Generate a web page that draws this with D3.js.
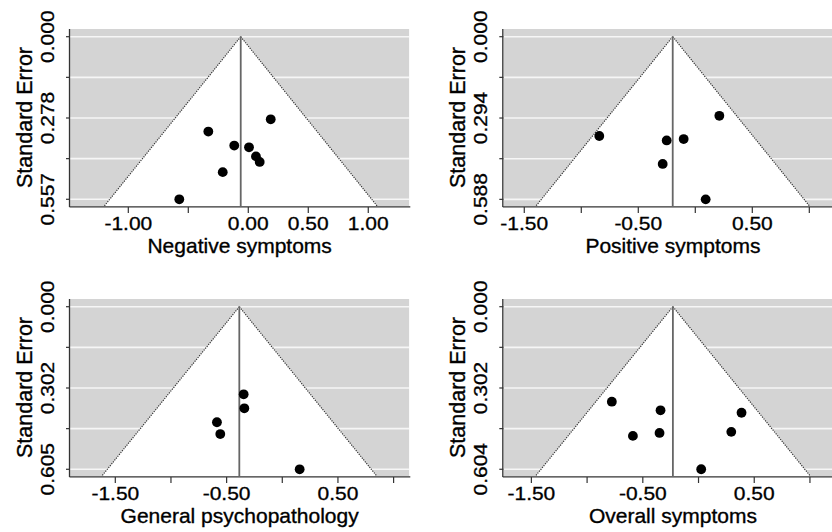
<!DOCTYPE html>
<html>
<head>
<meta charset="utf-8">
<script src="https://cdn.jsdelivr.net/npm/d3@7"></script>
<style>
  body { margin: 0; background: #fff; }
  svg { display: block; font-family: "Liberation Sans", Arial, sans-serif; }
  text { stroke: #000; stroke-width: 0.35px; }
</style>
</head>
<body>
<div id="chart"></div>
<script>
// panel titles
var titles = ["Negative symptoms", "Positive symptoms", "General psychopathology", "Overall symptoms"];

// effect sizes and standard errors per panel
var negEffect = [0.187, -0.333, -0.117, 0.006, 0.064, 0.095, -0.213, -0.575];
var negSE     = [0.283, 0.325, 0.373, 0.379, 0.410, 0.429, 0.464, 0.557];
var posEffect = [0.211, -0.842, -0.251, -0.102, -0.286, 0.091];
var posSE     = [0.286, 0.359, 0.375, 0.370, 0.460, 0.588];
var genEffect = [-0.347, -0.341, -0.587, -0.557, 0.156];
var genSE     = [0.326, 0.378, 0.430, 0.474, 0.605];
var allEffect = [-0.778, -0.341, 0.386, -0.589, -0.350, 0.294, 0.024];
var allSE     = [0.353, 0.385, 0.394, 0.480, 0.469, 0.465, 0.604];

// pooled estimates (funnel centre)
var pooled = [-0.063, -0.198, -0.386, -0.230];

// axis ranges
var xDomains = [[-1.486, 1.342], [-1.684, 1.292], [-1.907, 1.141], [-1.752, 1.293]];
var seMax = [0.557, 0.588, 0.605, 0.604];
var yDomains = [[-0.0264, 0.580], [-0.0278, 0.612], [-0.0287, 0.630], [-0.0286, 0.629]];

// tick values and labels
var xTicks = [[-1, -0.5, 0, 0.5, 1], [-1.5, -1, -0.5, 0, 0.5, 1], [-1.5, -1, -0.5, 0, 0.5, 1], [-1.5, -1, -0.5, 0, 0.5, 1]];
var xLabels = [[-1, 0, 0.5, 1], [-1.5, -0.5, 0.5], [-1.5, -0.5, 0.5], [-1.5, -0.5, 0.5]];
var yLabels = [["0.000", "0.278", "0.557"], ["0.000", "0.294", "0.588"], ["0.000", "0.302", "0.605"], ["0.000", "0.302", "0.604"]];

var effects = [negEffect, posEffect, genEffect, allEffect];
var ses = [negSE, posSE, genSE, allSE];

var W = 832, H = 532;
var svg = d3.select("#chart").append("svg")
  .attr("width", W)
  .attr("height", H);

var defs = svg.append("defs");

// plot areas
var boxes = [
  {x0: 70, x1: 409.3, y0: 29, y1: 206},
  {x0: 503.3, x1: 842.6, y0: 29, y1: 206},
  {x0: 70, x1: 409.3, y0: 299, y1: 476},
  {x0: 503.3, x1: 842.6, y0: 299, y1: 476}
];

boxes.forEach(function(b, i) {
  var data = effects[i].map(function(e, j) { return {e: e, se: ses[i][j]}; });

  var x = d3.scaleLinear().domain(xDomains[i]).range([b.x0, b.x1]);
  var y = d3.scaleLinear().domain(yDomains[i]).range([b.y0, b.y1]);

  var g = svg.append("g");

  defs.append("clipPath").attr("id", "clip" + i)
    .append("rect")
    .attr("x", b.x0).attr("y", b.y0)
    .attr("width", b.x1 - b.x0).attr("height", b.y1 - b.y0);

  var plot = g.append("g").attr("clip-path", "url(#clip" + i + ")");

  plot.append("rect")
    .attr("x", b.x0).attr("y", b.y0)
    .attr("width", b.x1 - b.x0).attr("height", b.y1 - b.y0)
    .attr("fill", "#d4d4d4");

  var m = seMax[i];
  var yTickVals = [0, m / 4, m / 2, 3 * m / 4, m];

  // gridlines
  plot.selectAll(".grid")
    .data(yTickVals)
    .enter()
    .append("line")
    .attr("x1", b.x0).attr("x2", b.x1)
    .attr("y1", d => y(d)).attr("y2", d => y(d))
    .attr("stroke", "#f6f6f6")
    .attr("stroke-width", 1.6);

  // funnel
  var seB = yDomains[i][1];
  var c = pooled[i];
  var tri = [[c, 0], [c - 1.96 * seB, seB], [c + 1.96 * seB, seB]];
  plot.append("polygon")
    .attr("points", tri.map(p => x(p[0]) + "," + y(p[1])).join(" "))
    .attr("fill", "#fff");

  [-1, 1].forEach(function(s) {
    plot.append("line")
      .attr("x1", x(c)).attr("y1", y(0))
      .attr("x2", x(c + s * 1.96 * seB)).attr("y2", y(seB))
      .attr("stroke", "#333")
      .attr("stroke-width", 1.2)
      .attr("stroke-dasharray", "1.2,1.2");
  });

  // pooled estimate line
  plot.append("line")
    .attr("x1", x(c)).attr("x2", x(c))
    .attr("y1", y(0)).attr("y2", b.y1)
    .attr("stroke", "#666")
    .attr("stroke-width", 1.8);

  // points
  plot.selectAll("circle")
    .data(data)
    .enter()
    .append("circle")
    .attr("cx", d => x(d.e))
    .attr("cy", d => y(d.se))
    .attr("r", 4.9)
    .attr("fill", "#000");

  // axes
  g.append("line")
    .attr("x1", b.x0 - 0.5).attr("x2", b.x0 - 0.5)
    .attr("y1", b.y0).attr("y2", b.y1 + 1)
    .attr("stroke", "#333").attr("stroke-width", 1.3);
  g.append("line")
    .attr("x1", b.x0 - 0.5).attr("x2", b.x1 + 1)
    .attr("y1", b.y1 + 0.8).attr("y2", b.y1 + 0.8)
    .attr("stroke", "#333").attr("stroke-width", 1.3);

  g.selectAll(".ytick")
    .data(yTickVals)
    .enter()
    .append("line")
    .attr("x1", b.x0 - 4).attr("x2", b.x0)
    .attr("y1", d => y(d)).attr("y2", d => y(d))
    .attr("stroke", "#333").attr("stroke-width", 1.2);

  g.selectAll(".xtick")
    .data(xTicks[i])
    .enter()
    .append("line")
    .attr("x1", d => x(d)).attr("x2", d => x(d))
    .attr("y1", b.y1 + 1).attr("y2", b.y1 + 7)
    .attr("stroke", "#333").attr("stroke-width", 1.2);

  // tick labels
  g.selectAll(".xlab")
    .data(xLabels[i])
    .enter()
    .append("text")
    .attr("transform", d => `translate(${x(d)}, ${b.y1 + 23.5}) scale(1, 0.85)`)
    .attr("text-anchor", "middle")
    .attr("font-size", 21)
    .attr("fill", "#000")
    .text(d => d3.format(".2f")(d).replace("−", "-"));

  g.selectAll(".ylab")
    .data(yLabels[i])
    .enter()
    .append("text")
    .attr("transform", (d, k) => `translate(${b.x0 - 16}, ${y(yTickVals[k * 2])}) rotate(-90) scale(1, 0.85)`)
    .attr("text-anchor", "middle")
    .attr("font-size", 21)
    .attr("fill", "#000")
    .text(d => d);

  // axis titles
  g.append("text")
    .attr("x", (b.x0 + Math.min(b.x1, 409.3 + b.x0 - 70)) / 2)
    .attr("y", b.y1 + 47)
    .attr("text-anchor", "middle")
    .attr("font-size", 21)
    .attr("fill", "#000")
    .text(titles[i]);

  g.append("text")
    .attr("transform", `translate(${b.x0 - 38.5}, ${(b.y0 + b.y1) / 2}) rotate(-90)`)
    .attr("text-anchor", "middle")
    .attr("font-size", 21.5)
    .attr("fill", "#000")
    .text("Standard Error");
});
</script>
</body>
</html>
